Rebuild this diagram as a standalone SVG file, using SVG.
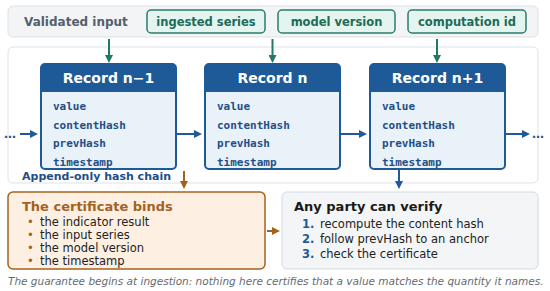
<svg xmlns="http://www.w3.org/2000/svg" width="550" height="291" viewBox="0 0 550 291">
<defs>
<style>
.sans{font-family:"DejaVu Sans",sans-serif}
.mono{font-family:"DejaVu Sans Mono",monospace;font-weight:bold;font-size:11px;fill:#1f4f86}
.panel{fill:#f2f4f6;stroke:#dde2e7;stroke-width:1}
.tag{fill:#e4f4ef;stroke:#2a7d6b;stroke-width:1.5}
.tagt{font-family:"DejaVu Sans",sans-serif;font-weight:bold;font-size:11.5px;fill:#1d6b58;text-anchor:middle}
.hdr{fill:#1f5a98}
.body{fill:#e9f1f9;stroke:#1f5a98;stroke-width:2}
.hdrt{font-family:"DejaVu Sans",sans-serif;font-weight:bold;font-size:14px;fill:#ffffff;text-anchor:middle}
.blue{stroke:#1f5a98;stroke-width:2;fill:none}
.green{stroke:#1f7a66;stroke-width:2;fill:none}
.orange{stroke:#a5621f;stroke-width:2;fill:none}
.li{font-family:"DejaVu Sans",sans-serif;font-size:11.5px;fill:#222}
</style>
<marker id="ab" markerWidth="8" markerHeight="8" refX="6" refY="4" orient="auto" markerUnits="userSpaceOnUse"><path d="M0,0 L8,4 L0,8 Z" fill="#1f5a98"/></marker>
<marker id="ag" markerWidth="8" markerHeight="8" refX="6" refY="4" orient="auto" markerUnits="userSpaceOnUse"><path d="M0,0 L8,4 L0,8 Z" fill="#1f7a66"/></marker>
<marker id="ao" markerWidth="8" markerHeight="8" refX="6" refY="4" orient="auto" markerUnits="userSpaceOnUse"><path d="M0,0 L8,4 L0,8 Z" fill="#a5621f"/></marker>
</defs>
<rect width="550" height="291" fill="#ffffff"/>

<g id="validated-input">
<rect class="panel" x="8" y="6" width="530" height="31" rx="5"/>
<text class="sans" x="24" y="26" font-size="12" font-weight="bold" fill="#555f6a">Validated input</text>
</g>
<g id="tag-ingested-series">
<rect class="tag" x="147" y="10" width="118" height="23" rx="4"/>
<text class="tagt" x="206" y="25.5">ingested series</text>
</g>
<g id="tag-model-version">
<rect class="tag" x="278" y="10" width="117" height="23" rx="4"/>
<text class="tagt" x="336.5" y="25.5">model version</text>
</g>
<g id="tag-computation-id">
<rect class="tag" x="408" y="10" width="118" height="23" rx="4"/>
<text class="tagt" x="467" y="25.5">computation id</text>
</g>

<g id="hash-chain">
<rect x="8" y="47" width="530" height="136" rx="5" fill="#ffffff" stroke="#dde2e7"/>
<text class="sans" x="22" y="180" font-size="11" font-weight="bold" fill="#1f4f86">Append-only hash chain</text>
</g>

<g id="record-n-1">
<rect class="body" x="41" y="64" width="135" height="105" rx="4"/>
<path class="hdr" d="M45,64 H172 A4,4 0 0 1 176,68 V92 H41 V68 A4,4 0 0 1 45,64 Z"/>
<text class="hdrt" x="108.5" y="83">Record n−1</text>
<text class="mono" x="53" y="110">value</text>
<text class="mono" x="53" y="128.5">contentHash</text>
<text class="mono" x="53" y="147">prevHash</text>
<text class="mono" x="53" y="165.5">timestamp</text>
</g>
<g id="record-n">
<rect class="body" x="205" y="64" width="135" height="105" rx="4"/>
<path class="hdr" d="M209,64 H336 A4,4 0 0 1 340,68 V92 H205 V68 A4,4 0 0 1 209,64 Z"/>
<text class="hdrt" x="272.5" y="83">Record n</text>
<text class="mono" x="217" y="110">value</text>
<text class="mono" x="217" y="128.5">contentHash</text>
<text class="mono" x="217" y="147">prevHash</text>
<text class="mono" x="217" y="165.5">timestamp</text>
</g>
<g id="record-n-plus-1">
<rect class="body" x="370" y="64" width="135" height="105" rx="4"/>
<path class="hdr" d="M374,64 H501 A4,4 0 0 1 505,68 V92 H370 V68 A4,4 0 0 1 374,64 Z"/>
<text class="hdrt" x="437.5" y="83">Record n+1</text>
<text class="mono" x="382" y="110">value</text>
<text class="mono" x="382" y="128.5">contentHash</text>
<text class="mono" x="382" y="147">prevHash</text>
<text class="mono" x="382" y="165.5">timestamp</text>
</g>

<g id="certificate">
<rect x="8" y="192" width="257" height="77" rx="5" fill="#fdf0e2" stroke="#a5621f" stroke-width="1.5"/>
<text class="sans" x="22" y="211" font-size="13" font-weight="bold" fill="#a5621f">The certificate binds</text>
<g class="li">
<text x="27" y="225.5" fill="#a5621f">•</text><text x="40" y="225.5">the indicator result</text>
<text x="27" y="238.5" fill="#a5621f">•</text><text x="40" y="238.5">the input series</text>
<text x="27" y="251.5" fill="#a5621f">•</text><text x="40" y="251.5">the model version</text>
<text x="27" y="264.5" fill="#a5621f">•</text><text x="40" y="264.5">the timestamp</text>
</g>
</g>

<g id="verify">
<rect x="282" y="192" width="256" height="77" rx="5" fill="#f3f5f7" stroke="#d5dbe1"/>
<text class="sans" x="294" y="211" font-size="13" font-weight="bold" fill="#1a1a1a">Any party can verify</text>
<g class="li">
<text x="302" y="227.5" font-weight="bold" fill="#1f5a98">1.</text><text x="320" y="227.5">recompute the content hash</text>
<text x="302" y="242.5" font-weight="bold" fill="#1f5a98">2.</text><text x="320" y="242.5">follow prevHash to an anchor</text>
<text x="302" y="257.5" font-weight="bold" fill="#1f5a98">3.</text><text x="320" y="257.5">check the certificate</text>
</g>
</g>

<g id="connectors">
<line class="green" x1="109" y1="39" x2="109" y2="61" marker-end="url(#ag)"/>
<line class="green" x1="272.5" y1="39" x2="272.5" y2="61" marker-end="url(#ag)"/>
<line class="green" x1="437" y1="39" x2="437" y2="61" marker-end="url(#ag)"/>
<text class="sans" x="4" y="138" font-size="12" font-weight="bold" fill="#1f5a98">…</text>
<line class="blue" x1="20" y1="134" x2="36" y2="134" marker-end="url(#ab)"/>
<line class="blue" x1="177" y1="134" x2="200" y2="134" marker-end="url(#ab)"/>
<line class="blue" x1="341" y1="134" x2="365" y2="134" marker-end="url(#ab)"/>
<line class="blue" x1="506" y1="134" x2="528" y2="134" marker-end="url(#ab)"/>
<text class="sans" x="532" y="138" font-size="12" font-weight="bold" fill="#1f5a98">…</text>
<line class="orange" x1="184" y1="171" x2="184" y2="187" marker-end="url(#ao)"/>
<line class="blue" x1="399" y1="170" x2="399" y2="187" marker-end="url(#ab)"/>
<line class="orange" x1="267" y1="231" x2="278" y2="231" marker-end="url(#ao)"/>
</g>

<text class="sans" x="8" y="285" font-size="10.5" font-style="italic" fill="#666b72">The guarantee begins at ingestion: nothing here certifies that a value matches the quantity it names.</text>
</svg>
